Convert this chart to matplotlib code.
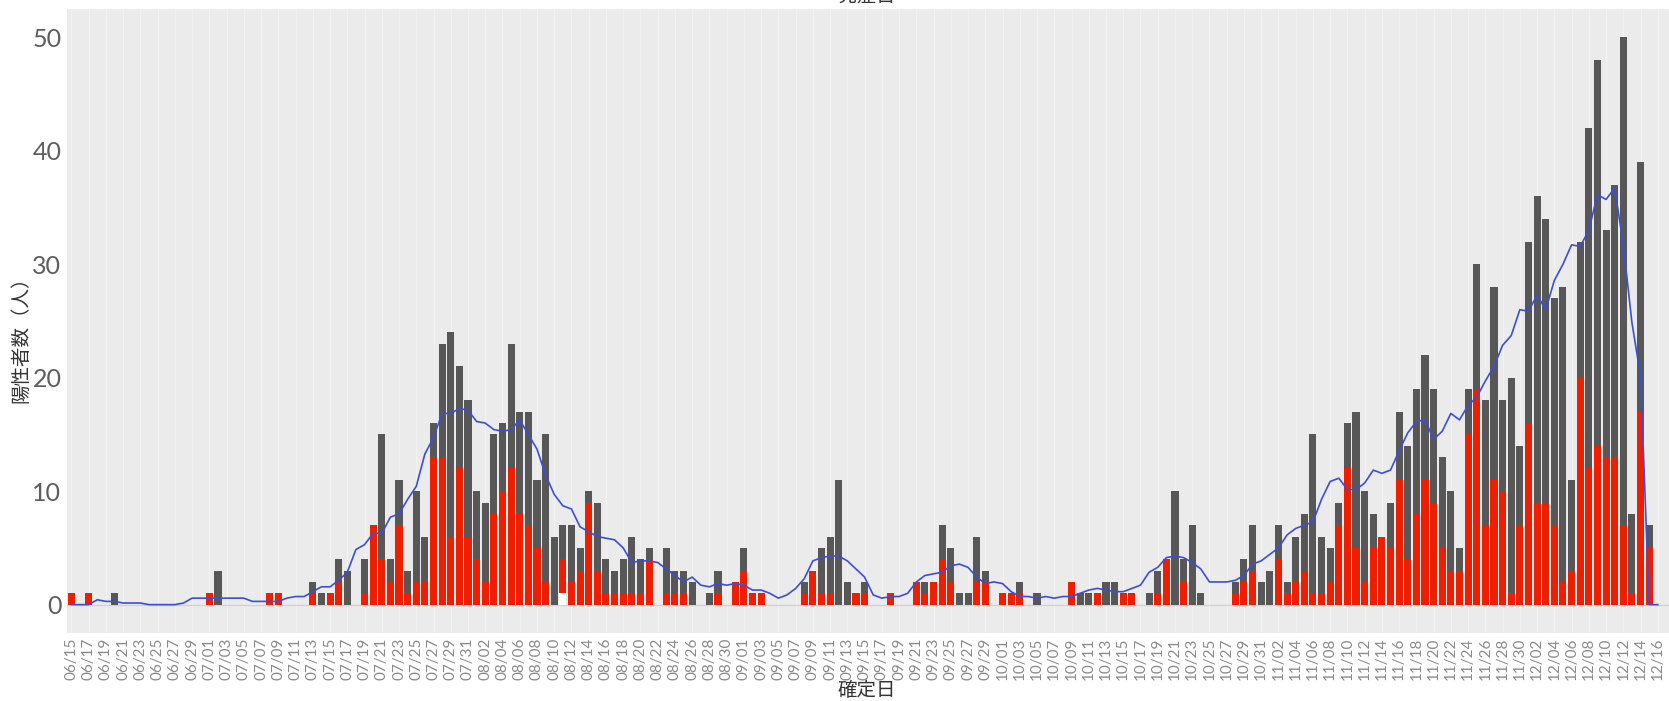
import numpy as np
import pandas as pd
import matplotlib
matplotlib.use("Agg")
import matplotlib.pyplot as plt

plt.rcParams['font.family'] = ['Noto Sans CJK JP', 'DejaVu Sans']

# Fechas del eje x (2020/06/15 - 2020/12/16), una barra por dia
fechas = pd.date_range('2020-06-15', '2020-12-16', freq='D')
etiquetas = list(fechas.strftime('%m/%d'))

# Parte roja de cada barra, por mes
rojo_jun = [1, 0, 1, 0, 0, 0, 0, 0, 0, 0, 0, 0, 0, 0, 0, 0]
rojo_jul = [1, 0, 0, 0, 0, 0, 0, 1, 1, 0, 0, 0, 1, 0, 1, 2, 0, 0, 1, 7,
            4, 2, 7, 1, 2, 2, 13, 13, 6, 12, 6]
rojo_ago = [4, 2, 8, 10, 12, 8, 7, 5, 2, 0, 3, 2, 3, 9, 3, 1, 1, 1, 1, 1,
            4, 0, 1, 1, 1, 0, 0, 0, 1, 0, 2]
rojo_sep = [3, 1, 1, 0, 0, 0, 0, 1, 3, 1, 1, 0, 0, 1, 1, 0, 0, 1, 0, 0,
            2, 1, 2, 4, 2, 0, 0, 2, 2, 0]
rojo_oct = [1, 1, 1, 0, 0, 0, 0, 0, 2, 0, 0, 1, 0, 0, 1, 1, 0, 0, 1, 4,
            0, 2, 0, 0, 0, 0, 0, 1, 2, 3, 0]
rojo_nov = [0, 4, 1, 2, 3, 1, 1, 2, 7, 12, 5, 2, 5, 6, 5, 11, 4, 8, 11, 9,
            5, 3, 3, 15, 19, 7, 11, 10, 1, 7]
rojo_dic = [16, 9, 9, 7, 2, 3, 20, 12, 14, 13, 13, 7, 1, 17, 5, 0]

# Parte gris (encima de la roja)
gris_jun = [0, 0, 0, 0, 0, 1, 0, 0, 0, 0, 0, 0, 0, 0, 0, 0]
gris_jul = [0, 3, 0, 0, 0, 0, 0, 0, 0, 0, 0, 0, 1, 1, 0, 2, 3, 0, 3, 0,
            11, 2, 4, 2, 8, 4, 3, 10, 18, 9, 12]
gris_ago = [6, 7, 7, 6, 11, 9, 10, 6, 13, 6, 3, 5, 2, 1, 6, 3, 2, 3, 5, 3,
            1, 0, 4, 2, 2, 2, 0, 1, 2, 0, 0]
gris_sep = [2, 0, 0, 0, 0, 0, 0, 1, 0, 4, 5, 11, 2, 0, 1, 0, 0, 0, 0, 0,
            0, 1, 0, 3, 3, 1, 1, 4, 1, 0]
gris_oct = [0, 0, 1, 0, 1, 0, 0, 0, 0, 1, 1, 0, 2, 2, 0, 0, 0, 1, 2, 0,
            10, 2, 7, 1, 0, 0, 0, 1, 2, 4, 2]
gris_nov = [3, 3, 1, 4, 5, 14, 5, 3, 2, 4, 12, 8, 3, 0, 4, 6, 10, 11, 11, 10,
            8, 7, 2, 4, 11, 11, 17, 8, 19, 7]
gris_dic = [16, 27, 25, 20, 26, 8, 12, 30, 34, 20, 24, 43, 7, 22, 2, 0]

# Parte blanca (abajo), un solo dia
blanco_dias = ['08/11']
blanco_valores = [1]

rojo = np.array(rojo_jun + rojo_jul + rojo_ago + rojo_sep + rojo_oct + rojo_nov + rojo_dic)
gris = np.array(gris_jun + gris_jul + gris_ago + gris_sep + gris_oct + gris_nov + gris_dic)
blanco = np.zeros(len(fechas))
for d, v in zip(blanco_dias, blanco_valores):
    blanco[etiquetas.index(d)] = v

# Media movil de 7 dias (centrada) del total
total = pd.Series(blanco + rojo + gris, index=fechas)
total_ext = total.reindex(pd.date_range('2020-06-15', '2020-12-17', freq='D'), fill_value=0)
media = total_ext.rolling(7, center=True).mean().fillna(0).iloc[:len(fechas)].values

x = np.arange(len(fechas))

W, H = 1669, 701
fig = plt.figure(figsize=(W / 100, H / 100), dpi=100)
ax = fig.add_axes([67 / W, 1 - 633 / H, (W - 67) / W, (633 - 9) / H])
ax.set_facecolor('#EBEBEB')

for xi in x[::2]:
    ax.axvline(xi, color='#F3F3F3', lw=0.7, zorder=0)
ax.axhline(0, color='#D2D2D2', lw=1.0, zorder=0.5)

ancho = 0.82
ax.bar(x, blanco, width=ancho, color='white', zorder=2)
ax.bar(x, rojo, bottom=blanco, width=ancho, color='#EE1E00', zorder=2)
ax.bar(x, gris, bottom=blanco + rojo, width=ancho, color='#575757', zorder=2)
ax.plot(x, media, color='#3C4ED6', lw=1.2, zorder=3)

ax.set_xlim(-0.51, 185.3)
ax.set_ylim(-2.5, 52.5)

ax.set_yticks([0, 10, 20, 30, 40, 50])
ax.set_yticklabels(['0', '10', '20', '30', '40', '50'], fontsize=18,
                   color='#5E5E5E', family=['Lato', 'DejaVu Sans'])
ax.set_xticks(x[::2])
ax.set_xticklabels(etiquetas[::2], rotation=90, fontsize=11, color='#8A8A8A',
                   family=['Lato', 'DejaVu Sans'])
ax.tick_params(axis='both', length=0)
ax.tick_params(axis='y', pad=4)
ax.tick_params(axis='x', pad=3)
for s in ax.spines.values():
    s.set_visible(False)

fig.text(21 / W, 1 - 335 / H, '陽性者数（人）', rotation=90, ha='center', va='center',
         fontsize=14, color='#333333')
fig.text(867 / W, 1 - 690 / H, '確定日', ha='center', va='center',
         fontsize=14, color='#333333')
fig.text(867 / W, 1 + 4.5 / H, '発症日', ha='center', va='center',
         fontsize=14, color='#333333')

fig.savefig('out.png', dpi=100)
